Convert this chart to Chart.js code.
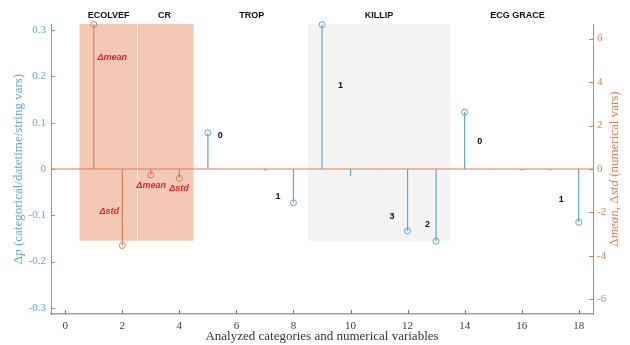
<!DOCTYPE html>
<html>
<head>
<meta charset="utf-8">
<script src="https://cdn.jsdelivr.net/npm/chart.js@4/dist/chart.umd.min.js"></script>
<style>
  html, body { margin: 0; padding: 0; background: #fff; }
  #wrap { width: 630px; height: 345px; position: relative; }
</style>
</head>
<body>
<div id="wrap"><canvas id="c"></canvas></div>
<script>
// ─── Data ────────────────────────────────────────────────────────────────────
// categorical stems (left axis, Δp)
const catX = [5, 8, 9, 12, 13, 14, 18];
const catP = [0.078, -0.073, 0.312, -0.134, -0.156, 0.123, -0.115];
// near-zero categorical stems (drawn without marker)
const tinyX = [7, 10, 11, 15, 16, 17];
const tinyP = [-0.004, -0.015, -0.002, -0.002, -0.003, -0.003];
// numerical stems (right axis, Δmean / Δstd)
const numX = [1, 2, 3, 4];
const numD = [6.65, -3.52, -0.28, -0.43];

// tick values
const xTicks     = [0, 2, 4, 6, 8, 10, 12, 14, 16, 18];
const leftTicks  = [-0.3, -0.2, -0.1, 0, 0.1, 0.2, 0.3];
const rightTicks = [-6, -4, -2, 0, 2, 4, 6];

// group headers above the plot
const groupNames = ['ECOLVEF', 'CR', 'TROP', 'KILLIP', 'ECG GRACE'];
const groupX     = [1.52, 3.48, 6.54, 11.0, 15.85];

// shaded bands [x0, x1, bottom Δp]
const orangeBand = [0.5, 4.5, -0.155];
const greyBand   = [8.5, 13.5, -0.155];
const bandSplitX = 2.5;

// red annotations (x, Δp)
const deltaText = ['Δmean', 'Δstd', 'Δmean', 'Δstd'];
const deltaX    = [1.65, 1.54, 3.01, 3.99];
const deltaP    = [0.242, -0.092, -0.035, -0.042];

// level counts next to stems (x, Δp)
const countText = ['0', '1', '1', '3', '2', '0', '1'];
const countX    = [5.43, 7.46, 9.65, 11.45, 12.7, 14.53, 17.39];
const countP    = [0.073, -0.06, 0.181, -0.103, -0.121, 0.060, -0.065];

// ─── Styling ─────────────────────────────────────────────────────────────────
const BLUE   = '#5ea8d1';
const ORANGE = '#e07e52';
const SERIF  = '"Liberation Serif", "DejaVu Serif", serif';
const SANS   = '"Liberation Sans", Arial, sans-serif';

// draws text made of [str, italic] pieces, centred at (cx, cy), optionally rotated
function richText(ctx, pieces, cx, cy, size, color, rot) {
  ctx.save();
  ctx.translate(cx, cy);
  if (rot) ctx.rotate(rot);
  ctx.fillStyle = color;
  ctx.textBaseline = 'middle';
  ctx.textAlign = 'left';
  const fonts = pieces.map(p => (p[1] ? 'italic ' : '') + size + 'px ' + SERIF);
  let total = 0;
  const widths = pieces.map((p, i) => { ctx.font = fonts[i]; const w = ctx.measureText(p[0]).width; total += w; return w; });
  let x = -total / 2;
  pieces.forEach((p, i) => { ctx.font = fonts[i]; ctx.fillText(p[0], x, 0); x += widths[i]; });
  ctx.restore();
}

const stemPlugin = {
  id: 'stems',
  beforeDatasetsDraw(chart) {
    const { ctx, chartArea: a, scales } = chart;
    const x = scales.x, y = scales.y;
    ctx.save();
    // bands
    ctx.fillStyle = '#f3c9b5';
    ctx.fillRect(x.getPixelForValue(orangeBand[0]), a.top,
      x.getPixelForValue(orangeBand[1]) - x.getPixelForValue(orangeBand[0]),
      y.getPixelForValue(orangeBand[2]) - a.top);
    ctx.fillStyle = '#f4f4f4';
    ctx.fillRect(x.getPixelForValue(greyBand[0]), a.top,
      x.getPixelForValue(greyBand[1]) - x.getPixelForValue(greyBand[0]),
      y.getPixelForValue(greyBand[2]) - a.top);
    ctx.strokeStyle = '#fbeee8';
    ctx.lineWidth = 1;
    const sx = Math.round(x.getPixelForValue(bandSplitX)) + 0.5;
    ctx.beginPath();
    ctx.moveTo(sx, a.top);
    ctx.lineTo(sx, y.getPixelForValue(orangeBand[2]));
    ctx.stroke();

    // stems from zero to each point
    chart.data.datasets.forEach((ds, i) => {
      const meta = chart.getDatasetMeta(i);
      const y0 = scales[ds.yAxisID].getPixelForValue(0);
      ctx.strokeStyle = ds.borderColor;
      ctx.lineWidth = 1.2;
      meta.data.forEach(pt => {
        ctx.beginPath();
        ctx.moveTo(pt.x, y0);
        ctx.lineTo(pt.x, pt.y);
        ctx.stroke();
      });
    });

    // zero baseline
    const z = y.getPixelForValue(0);
    ctx.strokeStyle = ORANGE;
    ctx.lineWidth = 1.2;
    ctx.beginPath();
    ctx.moveTo(a.left, z);
    ctx.lineTo(a.right, z);
    ctx.stroke();
    ctx.restore();
  },
  afterDraw(chart) {
    const { ctx, chartArea: a, scales } = chart;
    const x = scales.x, y = scales.y, y2 = scales.y2;
    ctx.save();
    // inward tick marks
    ctx.lineWidth = 1;
    ctx.strokeStyle = '#777';
    xTicks.forEach(v => {
      const px = Math.round(x.getPixelForValue(v)) + 0.5;
      ctx.beginPath(); ctx.moveTo(px, a.bottom); ctx.lineTo(px, a.bottom - 4); ctx.stroke();
    });
    ctx.strokeStyle = BLUE;
    leftTicks.forEach(v => {
      const py = Math.round(y.getPixelForValue(v)) + 0.5;
      ctx.beginPath(); ctx.moveTo(a.left, py); ctx.lineTo(a.left + 4, py); ctx.stroke();
    });
    ctx.strokeStyle = ORANGE;
    rightTicks.forEach(v => {
      const py = Math.round(y2.getPixelForValue(v)) + 0.5;
      ctx.beginPath(); ctx.moveTo(a.right, py); ctx.lineTo(a.right - 4, py); ctx.stroke();
    });

    // group headers
    ctx.fillStyle = '#111';
    ctx.font = 'bold 9px ' + SANS;
    ctx.textAlign = 'center';
    ctx.textBaseline = 'middle';
    groupNames.forEach((n, i) => ctx.fillText(n, x.getPixelForValue(groupX[i]), 16));

    // Δ annotations
    ctx.fillStyle = '#e8222b';
    ctx.font = 'italic bold 9px ' + SANS;
    deltaText.forEach((t, i) => ctx.fillText(t, x.getPixelForValue(deltaX[i]), y.getPixelForValue(deltaP[i])));

    // counts
    ctx.fillStyle = '#111';
    ctx.font = 'bold 9px ' + SANS;
    countText.forEach((t, i) => ctx.fillText(t, x.getPixelForValue(countX[i]), y.getPixelForValue(countP[i])));
    ctx.restore();

    // axis titles
    richText(ctx, [['Δ', false], ['p', true], [' (categorical/datetime/string vars)', false]],
      19, (a.top + a.bottom) / 2, 13, BLUE, -Math.PI / 2);
    richText(ctx, [['Δ', false], ['mean', true], [', Δ', false], ['std', true], [' (numerical vars)', false]],
      615, (a.top + a.bottom) / 2, 13, ORANGE, -Math.PI / 2);
    richText(ctx, [['Analyzed categories and numerical variables', false]],
      (a.left + a.right) / 2, 337, 13, '#333', 0);
  }
};

const ctx = document.getElementById('c').getContext('2d');
new Chart(ctx, {
  type: 'scatter',
  data: {
    datasets: [
      {
        data: tinyX.map((v, i) => ({ x: v, y: tinyP[i] })),
        yAxisID: 'y',
        borderColor: BLUE,
        pointRadius: 0,
        clip: false,
      },
      {
        data: catX.map((v, i) => ({ x: v, y: catP[i] })),
        yAxisID: 'y',
        borderColor: BLUE,
        backgroundColor: 'rgba(0,0,0,0)',
        pointRadius: 3,
        pointBorderWidth: 1,
        clip: false,
      },
      {
        data: numX.map((v, i) => ({ x: v, y: numD[i] })),
        yAxisID: 'y2',
        borderColor: ORANGE,
        backgroundColor: 'rgba(0,0,0,0)',
        pointRadius: 3,
        pointBorderWidth: 1,
        clip: false,
      },
    ],
  },
  options: {
    responsive: true,
    maintainAspectRatio: false,
    animation: false,
    layout: { padding: { top: 24, left: 0, right: 0, bottom: 0 } },
    plugins: { legend: { display: false }, tooltip: { enabled: false } },
    scales: {
      x: {
        type: 'linear',
        min: -0.5, max: 18.5,
        afterBuildTicks: s => { s.ticks = xTicks.map(v => ({ value: v })); },
        afterFit: s => { s.height = 31; },
        grid: { display: false, drawTicks: false },
        border: { display: true, color: '#a0a0a0', width: 1.5 },
        ticks: { padding: 6, color: '#404040', font: { family: SERIF, size: 11 } },
      },
      y: {
        position: 'left',
        min: -0.3135, max: 0.3135,
        afterBuildTicks: s => { s.ticks = leftTicks.map(v => ({ value: v })); },
        afterFit: s => { s.width = 51; },
        grid: { display: false, drawTicks: false },
        border: { display: true, color: BLUE, width: 1 },
        ticks: {
          padding: 5, color: BLUE, font: { family: SERIF, size: 11 },
          callback: v => (Math.abs(v) < 1e-9 ? '0' : v.toFixed(1)),
        },
      },
      y2: {
        position: 'right',
        min: -6.67, max: 6.67,
        afterBuildTicks: s => { s.ticks = rightTicks.map(v => ({ value: v })); },
        afterFit: s => { s.width = 37; },
        grid: { display: false, drawTicks: false },
        border: { display: true, color: ORANGE, width: 1 },
        ticks: { padding: 4, color: ORANGE, font: { family: SERIF, size: 11 } },
      },
    },
  },
  plugins: [stemPlugin],
});
</script>
</body>
</html>
